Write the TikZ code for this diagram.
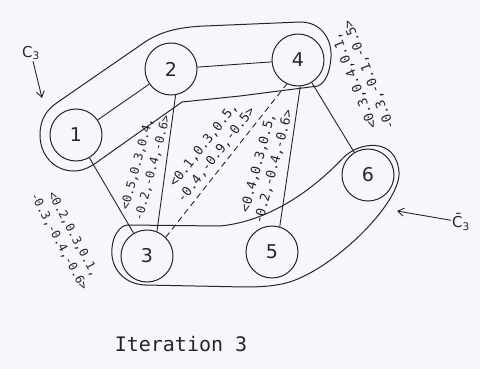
\documentclass[tikz,border=0pt]{standalone}
\usepackage{fontspec}
\setmainfont{DejaVu Sans}
\newfontfamily\lblfont{DejaVu Sans Mono}
\usetikzlibrary{arrows.meta}
\definecolor{ink}{RGB}{38,38,38}
\definecolor{paper}{RGB}{248,246,251}
\begin{document}
\begin{tikzpicture}[x=1pt,y=-1pt,
  vert/.style={circle, draw=ink, line width=1pt, minimum size=52pt, inner sep=0pt,
    font=\fontsize{19}{19}\selectfont, text=ink},
  edge/.style={draw=ink, line width=0.9pt},
  dashedge/.style={edge, dash pattern=on 6pt off 4pt},
  lbl/.style={font=\lblfont\fontsize{12}{16}\selectfont, text=ink, align=center, inner sep=0pt},
  lblbig/.style={lbl, font=\lblfont\fontsize{13}{16}\selectfont},
  hull/.style={draw=ink, line width=1pt},
  ptr/.style={draw=ink, line width=0.9pt, -{Straight Barb[length=6pt,width=8pt]}},
  tag/.style={text=ink, font=\fontsize{15}{15}\selectfont, inner sep=1pt},
]
\fill[paper] (0,0) rectangle (480,369);
\useasboundingbox (0,0) rectangle (480,369);

% hulls
\draw[hull] (40,135) .. controls (40,120) and (46,110) .. (58,102) -- (145,42)
  .. controls (160,32) and (178,27) .. (205,26) -- (300,22)
  .. controls (322,22) and (332,40) .. (331,57)
  .. controls (330,72) and (326,82) .. (318,86) -- (240,96) -- (182,102) -- (100,160)
  .. controls (92,166) and (84,171) .. (74,171)
  .. controls (54,171) and (40,155) .. (40,135) -- cycle;
\draw[hull] (127,225) -- (220,226) .. controls (262,222) and (305,198) .. (343,158)
  .. controls (358,142) and (396,136) .. (399,172)
  .. controls (401,200) and (345,258) .. (300,278)
  .. controls (285,285) and (268,287) .. (245,287) -- (145,285)
  .. controls (122,284) and (110,266) .. (112,248)
  .. controls (113,235) and (120,226) .. (127,225) -- cycle;

% vertices
\node[vert] (n1) at (76,135) {1};
\node[vert] (n2) at (171,69) {2};
\node[vert] (n4) at (298,60) {4};
\node[vert] (n3) at (147,256) {3};
\node[vert] (n5) at (272,252) {5};
\node[vert] (n6) at (368,175) {6};

% edges
\draw[edge] (n1) -- (n2);
\draw[edge] (n2) -- (n4);
\draw[edge] (n1) -- (n3);
\draw[edge] (n2.-80) -- (n3.68);
\draw[dashedge] (n3.45) -- (n4.-115);
\draw[edge] (n4.-85) -- (n5.73);
\draw[edge] (n4) -- (n6);

% edge labels
\node[lbl, rotate=-62] (l13) at (66,238) {<0.2,0.3,0.1,\\-0.3,-0.4,-0.6>};
\node[lbl, rotate=75] (l23) at (145,166) {<0.5,0.3,0.4,\\-0.2,-0.4,-0.6>};
\node[lblbig, rotate=52] (l34) at (210,150) {<0.1,0.3,0.5,\\-0.4,-0.9,-0.5>};
\node[lblbig, rotate=75] (l45) at (266,165) {<0.4,0.3,0.5,\\-0.2,-0.4,-0.6>};
\node[lblbig, rotate=112] (l46) at (362,78) {<0.3,0.4,0.1,\\-0.3,-0.1,-0.5>};

% cluster tags
\node[tag] (c3) at (31,53) {C\textsubscript{3}};
\coordinate (c3tip) at (42,98);
\draw[ptr] (c3) -- (c3tip);
\node[tag] (cb3) at (461,222) {\={C}\textsubscript{3}};
\coordinate (cb3tip) at (397,211);
\draw[ptr] (cb3) -- (cb3tip);

% caption
\node[text=ink, font=\lblfont\fontsize{20}{20}\selectfont] (title) at (181,344) {Iteration 3};
\end{tikzpicture}
\end{document}
